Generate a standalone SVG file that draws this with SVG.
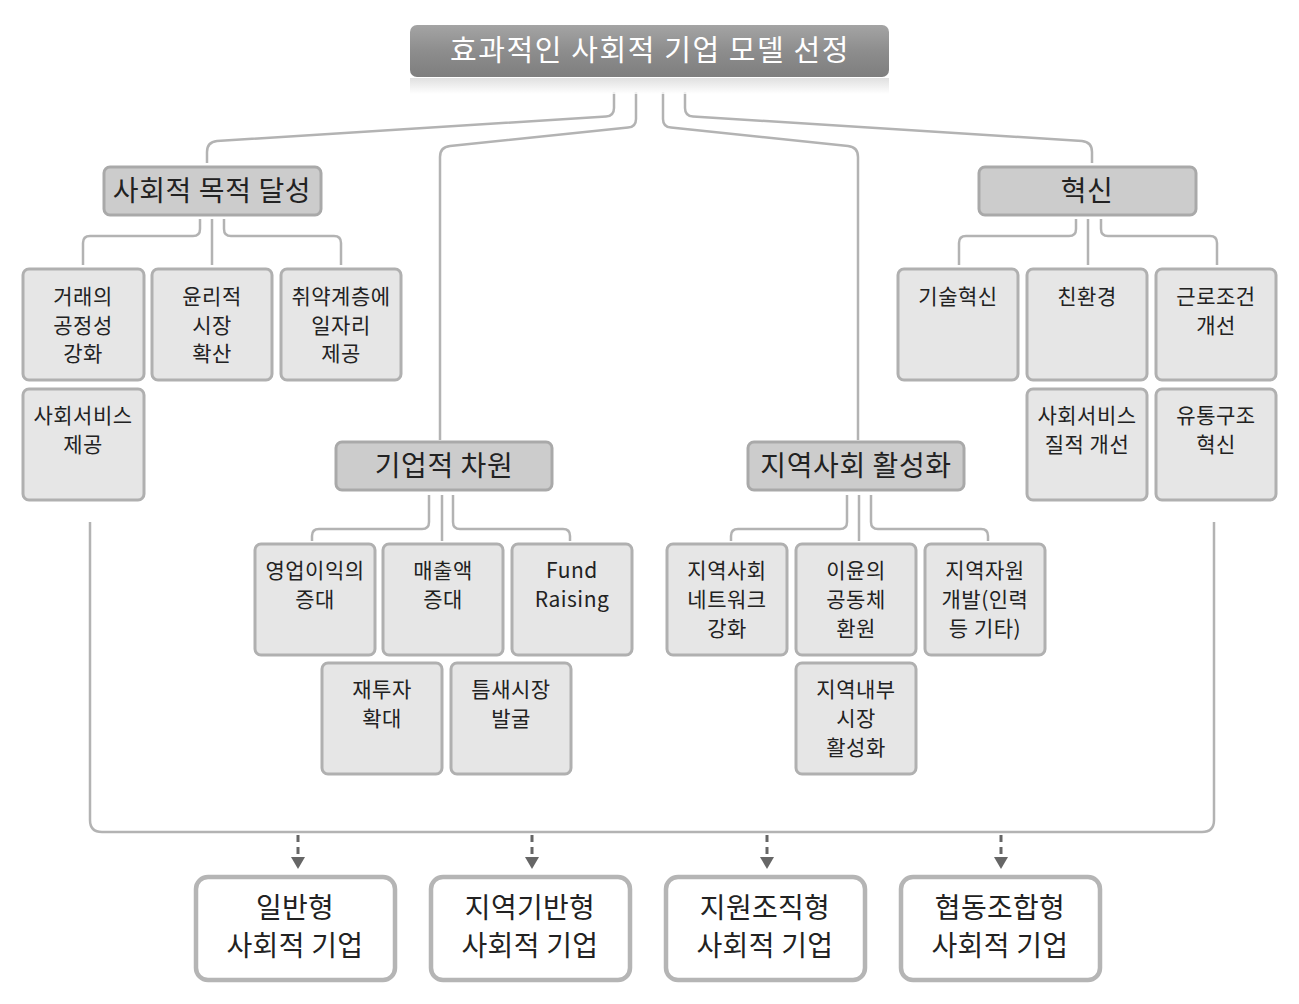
<svg xmlns="http://www.w3.org/2000/svg" width="1299" height="1004" viewBox="0 0 1299 1004">
<style>
text{font-family:"Noto Sans CJK KR","Noto Sans",sans-serif;fill:#222;text-anchor:middle}
.t1{font-size:29px;fill:#fff;letter-spacing:1.6px}
.t2{font-size:28px;letter-spacing:0.6px}
.t3{font-size:21px;letter-spacing:0.5px}
.t4{font-size:28px;letter-spacing:0.3px}
.b2{fill:#cccccc;stroke:#a9a9a9;stroke-width:3}
.b3{fill:#e6e6e6;stroke:#b0b0b0;stroke-width:3}
.b4{fill:#fff;stroke:#b5b5b5;stroke-width:4.5}
.c{fill:none;stroke:#b3b3b3;stroke-width:2.5}
.d{fill:none;stroke:#666;stroke-width:3;stroke-dasharray:7,5}
</style>
<defs>
<linearGradient id="gTop" x1="0" y1="0" x2="0" y2="1">
<stop offset="0" stop-color="#a4a4a4"/>
<stop offset="0.5" stop-color="#8d8d8d"/>
<stop offset="1" stop-color="#7e7e7e"/>
</linearGradient>
<linearGradient id="gRef" x1="0" y1="0" x2="0" y2="1">
<stop offset="0" stop-color="#d8d8d8"/>
<stop offset="1" stop-color="#ffffff"/>
</linearGradient>
<marker id="arr" viewBox="0 0 12 14" markerWidth="12" markerHeight="14" refX="0" refY="7" orient="auto" markerUnits="userSpaceOnUse">
<path d="M0,0 L12,7 L0,14 z" fill="#666"/>
</marker>
</defs>
<rect width="1299" height="1004" fill="#fff"/>

<g id="connectors">
<path class="c" d="M614,92 V108 Q614,116 606,116.5 L217,141 Q207,142 207,152 V163"/>
<path class="c" d="M636,92 V119 Q636,127 628,127.5 L450,146 Q440,147 440,157 V440"/>
<path class="c" d="M663,92 V119 Q663,127 671,127.5 L848,146 Q858,147 858,157 V440"/>
<path class="c" d="M685,92 V108 Q685,116 693,116.5 L1082,141 Q1092,142 1092,152 V163"/>

<path class="c" d="M200,219 V229 Q200,236 193,236 H90 Q83,236 83,243 V265"/>
<path class="c" d="M212,219 V265"/>
<path class="c" d="M224,219 V229 Q224,236 231,236 H334 Q341,236 341,243 V265"/>

<path class="c" d="M1076,219 V229 Q1076,236 1069,236 H966 Q959,236 959,243 V265"/>
<path class="c" d="M1088,219 V265"/>
<path class="c" d="M1101,219 V229 Q1101,236 1108,236 H1210 Q1217,236 1217,243 V265"/>

<path class="c" d="M429,495 V522 Q429,529 422,529 H319 Q312,529 312,536 V541"/>
<path class="c" d="M442,495 V541"/>
<path class="c" d="M453,495 V522 Q453,529 460,529 H563 Q570,529 570,536 V541"/>

<path class="c" d="M847,495 V522 Q847,529 840,529 H738 Q731,529 731,536 V541"/>
<path class="c" d="M859,495 V541"/>
<path class="c" d="M871,495 V522 Q871,529 878,529 H981 Q988,529 988,536 V541"/>

<path class="c" d="M90,522 V820 Q90,832 102,832 H1202 Q1214,832 1214,820 V522"/>

<line class="d" x1="298" y1="835" x2="298" y2="857" marker-end="url(#arr)"/>
<line class="d" x1="532" y1="835" x2="532" y2="857" marker-end="url(#arr)"/>
<line class="d" x1="767" y1="835" x2="767" y2="857" marker-end="url(#arr)"/>
<line class="d" x1="1001" y1="835" x2="1001" y2="857" marker-end="url(#arr)"/>
</g>

<g id="n-top">
<rect x="410" y="78" width="479" height="16" fill="url(#gRef)" opacity="0.8"/>
<rect x="410" y="25" width="479" height="52" rx="7" fill="url(#gTop)"/>
<text class="t1" x="650" y="61">효과적인 사회적 기업 모델 선정</text>
</g>

<g id="n-social">
<rect class="b2" x="104" y="167" width="217" height="48" rx="6"/>
<text class="t2" x="212" y="201">사회적 목적 달성</text>
</g>
<g id="n-innov">
<rect class="b2" x="979" y="167" width="217" height="48" rx="6"/>
<text class="t2" x="1087" y="201">혁신</text>
</g>
<g id="n-corp">
<rect class="b2" x="336" y="442" width="216" height="48" rx="6"/>
<text class="t2" x="444" y="476">기업적 차원</text>
</g>
<g id="n-local">
<rect class="b2" x="748" y="442" width="216" height="48" rx="6"/>
<text class="t2" x="856" y="476">지역사회 활성화</text>
</g>

<g id="n-fair">
<rect class="b3" x="23" y="269" width="121" height="111" rx="6"/>
<text class="t3" x="83" y="304">거래의</text>
<text class="t3" x="83" y="333">공정성</text>
<text class="t3" x="83" y="361">강화</text>
</g>
<g id="n-ethic">
<rect class="b3" x="152" y="269" width="120" height="111" rx="6"/>
<text class="t3" x="212" y="304">윤리적</text>
<text class="t3" x="212" y="333">시장</text>
<text class="t3" x="212" y="361">확산</text>
</g>
<g id="n-job">
<rect class="b3" x="281" y="269" width="120" height="111" rx="6"/>
<text class="t3" x="341" y="304">취약계층에</text>
<text class="t3" x="341" y="333">일자리</text>
<text class="t3" x="341" y="361">제공</text>
</g>
<g id="n-service">
<rect class="b3" x="23" y="389" width="121" height="111" rx="6"/>
<text class="t3" x="83" y="423">사회서비스</text>
<text class="t3" x="83" y="452">제공</text>
</g>

<g id="n-tech">
<rect class="b3" x="898" y="269" width="120" height="111" rx="6"/>
<text class="t3" x="958" y="304">기술혁신</text>
</g>
<g id="n-eco">
<rect class="b3" x="1027" y="269" width="120" height="111" rx="6"/>
<text class="t3" x="1087" y="304">친환경</text>
</g>
<g id="n-work">
<rect class="b3" x="1156" y="269" width="120" height="111" rx="6"/>
<text class="t3" x="1216" y="304">근로조건</text>
<text class="t3" x="1216" y="333">개선</text>
</g>
<g id="n-quality">
<rect class="b3" x="1027" y="389" width="120" height="111" rx="6"/>
<text class="t3" x="1087" y="423">사회서비스</text>
<text class="t3" x="1087" y="452">질적 개선</text>
</g>
<g id="n-dist">
<rect class="b3" x="1156" y="389" width="120" height="111" rx="6"/>
<text class="t3" x="1216" y="423">유통구조</text>
<text class="t3" x="1216" y="452">혁신</text>
</g>

<g id="n-profit">
<rect class="b3" x="255" y="544" width="120" height="111" rx="6"/>
<text class="t3" x="315" y="578">영업이익의</text>
<text class="t3" x="315" y="607">증대</text>
</g>
<g id="n-sales">
<rect class="b3" x="383" y="544" width="120" height="111" rx="6"/>
<text class="t3" x="443" y="578">매출액</text>
<text class="t3" x="443" y="607">증대</text>
</g>
<g id="n-fund">
<rect class="b3" x="512" y="544" width="120" height="111" rx="6"/>
<text class="t3" x="572" y="578">Fund</text>
<text class="t3" x="572" y="607">Raising</text>
</g>
<g id="n-reinvest">
<rect class="b3" x="322" y="663" width="120" height="111" rx="6"/>
<text class="t3" x="382" y="697">재투자</text>
<text class="t3" x="382" y="726">확대</text>
</g>
<g id="n-niche">
<rect class="b3" x="451" y="663" width="120" height="111" rx="6"/>
<text class="t3" x="511" y="697">틈새시장</text>
<text class="t3" x="511" y="726">발굴</text>
</g>

<g id="n-network">
<rect class="b3" x="667" y="544" width="120" height="111" rx="6"/>
<text class="t3" x="727" y="578">지역사회</text>
<text class="t3" x="727" y="607">네트워크</text>
<text class="t3" x="727" y="636">강화</text>
</g>
<g id="n-return">
<rect class="b3" x="796" y="544" width="120" height="111" rx="6"/>
<text class="t3" x="856" y="578">이윤의</text>
<text class="t3" x="856" y="607">공동체</text>
<text class="t3" x="856" y="636">환원</text>
</g>
<g id="n-resource">
<rect class="b3" x="925" y="544" width="120" height="111" rx="6"/>
<text class="t3" x="985" y="578">지역자원</text>
<text class="t3" x="985" y="607">개발(인력</text>
<text class="t3" x="985" y="636">등 기타)</text>
</g>
<g id="n-market">
<rect class="b3" x="796" y="663" width="120" height="111" rx="6"/>
<text class="t3" x="856" y="697">지역내부</text>
<text class="t3" x="856" y="726">시장</text>
<text class="t3" x="856" y="755">활성화</text>
</g>

<g id="n-general">
<rect class="b4" x="196" y="877" width="199" height="103" rx="12"/>
<text class="t4" x="295" y="918">일반형</text>
<text class="t4" x="295" y="956">사회적 기업</text>
</g>
<g id="n-regional">
<rect class="b4" x="431" y="877" width="199" height="103" rx="12"/>
<text class="t4" x="530" y="918">지역기반형</text>
<text class="t4" x="530" y="956">사회적 기업</text>
</g>
<g id="n-support">
<rect class="b4" x="666" y="877" width="199" height="103" rx="12"/>
<text class="t4" x="765" y="918">지원조직형</text>
<text class="t4" x="765" y="956">사회적 기업</text>
</g>
<g id="n-coop">
<rect class="b4" x="901" y="877" width="199" height="103" rx="12"/>
<text class="t4" x="1000" y="918">협동조합형</text>
<text class="t4" x="1000" y="956">사회적 기업</text>
</g>
</svg>
